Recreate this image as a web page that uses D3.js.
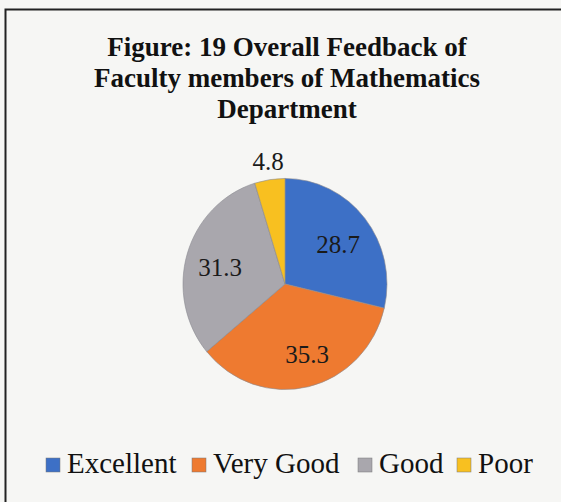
<!DOCTYPE html>
<html><head><meta charset="utf-8">
<script src="https://cdn.jsdelivr.net/npm/d3@7"></script>
<style>body{margin:0;background:#f6f6f4}svg{display:block}</style>
</head><body>
<svg id="chart" width="561" height="502"></svg>
<script>
const categories = ["Excellent", "Very Good", "Good", "Poor"];
const values = [28.7, 35.3, 31.3, 4.8];
const colors = ["#3d70c6", "#ee7a30", "#a9a7ad", "#f8c020"];
const titleLines = ["Figure: 19 Overall Feedback of", "Faculty members of Mathematics", "Department"];

const FONT = "'Liberation Serif', 'Times New Roman', Times, serif";
const svg = d3.select("#chart");
svg.append("rect").attr("x", 0).attr("y", 0).attr("width", 561).attr("height", 502).attr("fill", "#f6f6f4");
// frame
svg.append("path").attr("d", "M5.5,510 L5.5,9.5 L570,9.5").attr("fill", "none").attr("stroke", "#222").attr("stroke-width", 2);

svg.append("g").selectAll("text").data(titleLines).join("text")
  .attr("x", 287).attr("y", (d, i) => 56 + i * 31)
  .attr("text-anchor", "middle")
  .style("font-family", FONT).attr("font-weight", "bold")
  .attr("font-size", 27).attr("fill", "#111").text(d => d);

const cx = 285, cy = 284, r = 102;
const pie = d3.pie().sort(null).value(d => d);
const arcs = pie(values);
const arc = d3.arc().innerRadius(0).outerRadius(r);
const g = svg.append("g").attr("transform", `translate(${cx},${cy}) scale(1,1.035)`);
g.selectAll("path").data(arcs).join("path")
  .attr("d", arc).attr("fill", (d, i) => colors[i])
  .attr("stroke", "#8a8a90").attr("stroke-width", 0.6);

const lblG = svg.append("g").attr("transform", `translate(${cx},${cy})`);
const labelPos = [[53, -40], [22, 70], [-65, -17], [-17, -123]];
lblG.selectAll("text").data(arcs).join("text")
  .attr("x", (d, i) => labelPos[i][0]).attr("y", (d, i) => labelPos[i][1])
  .attr("text-anchor", "middle").attr("dominant-baseline", "central")
  .style("font-family", FONT).attr("font-size", 25)
  .attr("fill", "#1a1a1a").text(d => d.data);

// legend
const legendX = [46, 192, 358, 457];
const lg = svg.append("g").selectAll("g").data(categories).join("g")
  .attr("transform", (d, i) => `translate(${legendX[i]},473)`);
lg.append("rect").attr("x", 0).attr("y", -15).attr("width", 14).attr("height", 14)
  .attr("fill", (d, i) => colors[i]).attr("stroke", "#777").attr("stroke-width", 0.5);
lg.append("text").attr("x", 21).attr("y", 0)
  .style("font-family", FONT).attr("font-size", 29).attr("fill", "#111").text(d => d);
</script>
</body></html>
